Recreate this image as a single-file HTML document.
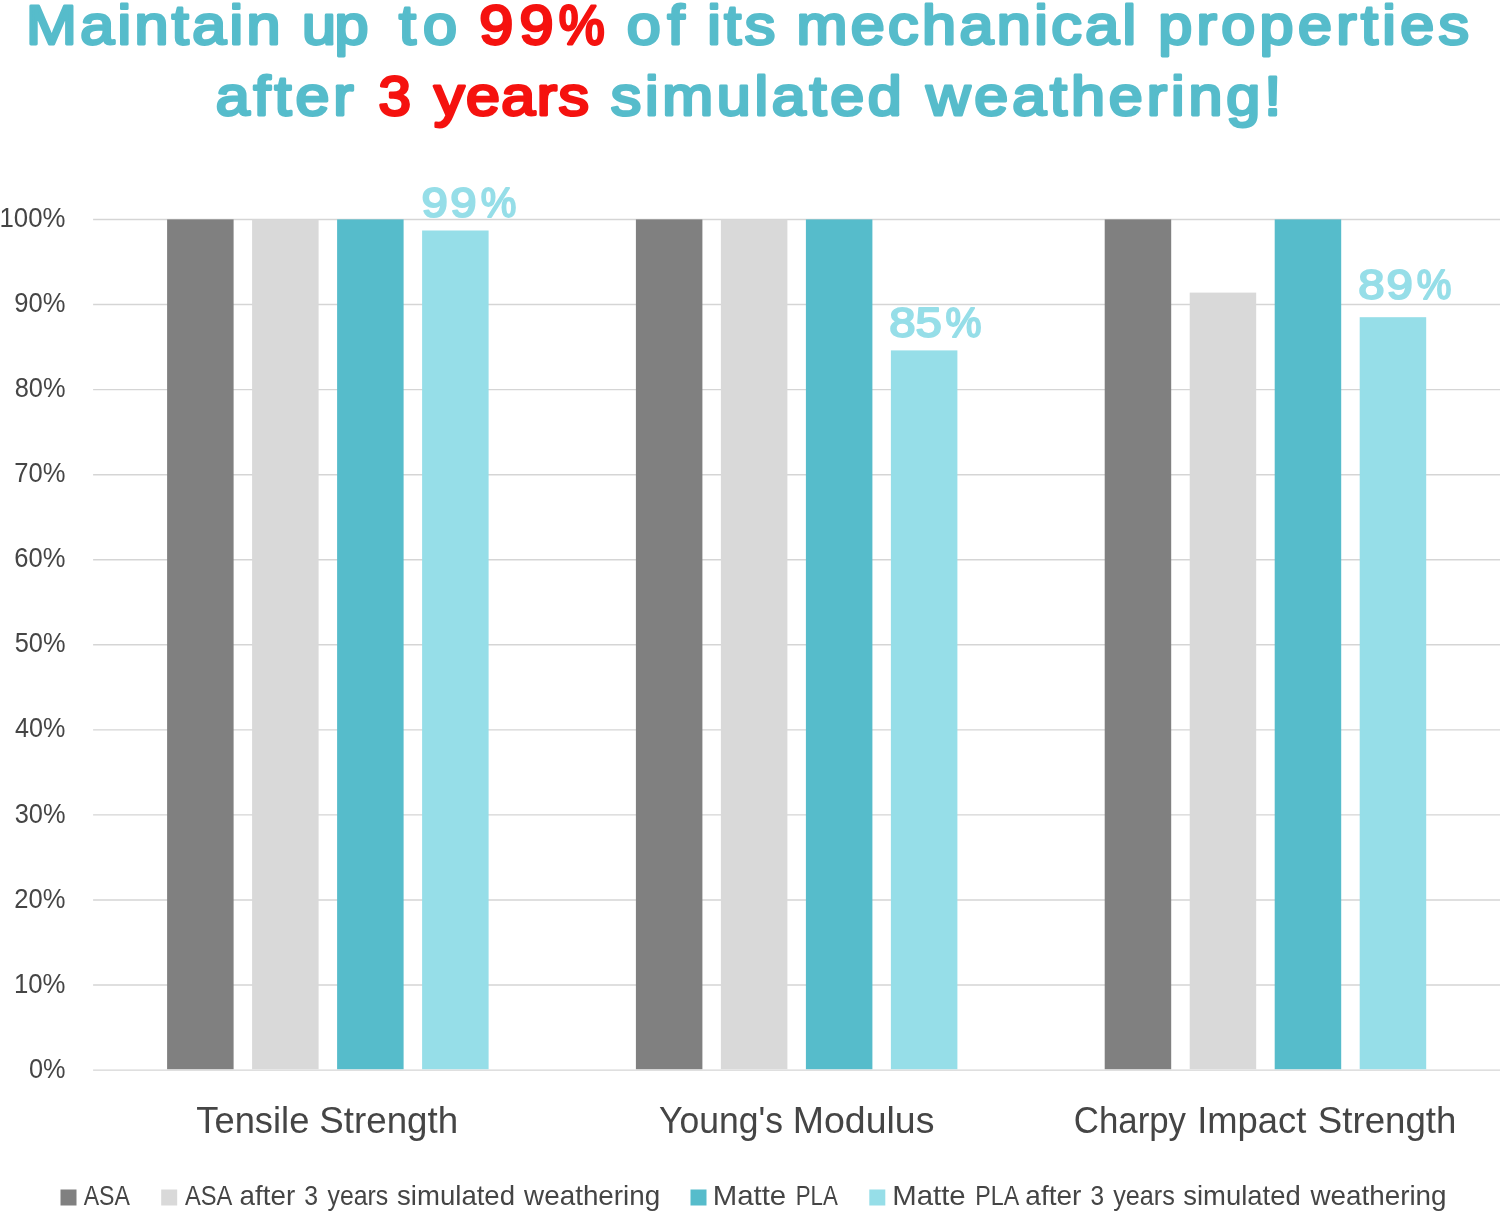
<!DOCTYPE html>
<html lang="en"><head><meta charset="utf-8"><title>Weathering chart</title>
<style>html,body{margin:0;padding:0;background:#fff}body{width:1500px;height:1212px;overflow:hidden}svg{display:block}text{font-family:"Liberation Sans",sans-serif;white-space:pre}.t{font-size:55.5px;stroke-width:2.9px;stroke-linejoin:round;stroke-linecap:round;fill:#56BCCB;stroke:#56BCCB}.red{fill:#F5120F;stroke:#F5120F}.ax{font-size:27px;fill:#454545}.cat{font-size:36.2px;fill:#454545}.lg{font-size:27.6px;fill:#454545}.dl{font-size:43px;fill:#96DEE8;stroke:#96DEE8;stroke-width:2.0px;stroke-linejoin:round;stroke-linecap:round}</style></head><body>
<svg width="1500" height="1212" viewBox="0 0 1500 1212">
<rect width="1500" height="1212" fill="#fff"/>
<text class="t" transform="translate(0,44.25) scale(1.100,1)"><tspan x="23.66" style="letter-spacing:3.08px">Maintain</tspan> <tspan x="274.53" style="letter-spacing:-1.37px">up</tspan> <tspan x="362.81" style="letter-spacing:6.43px">to</tspan> <tspan x="435.67" class="red" style="letter-spacing:5.67px">99</tspan><tspan x="507.94" class="red" textLength="41.78" lengthAdjust="spacingAndGlyphs">%</tspan> <tspan x="569.72" style="letter-spacing:6.18px">of</tspan> <tspan x="642.98" style="letter-spacing:3.17px">its</tspan> <tspan x="724.07" style="letter-spacing:3.12px">mechanical</tspan> <tspan x="1052.98" style="letter-spacing:3.98px">properties</tspan></text>
<text class="t" transform="translate(0,115.45) scale(1.100,1)"><tspan x="196.08" style="letter-spacing:3.60px">after</tspan> <tspan x="344.00" class="red" textLength="29.49" lengthAdjust="spacingAndGlyphs">3</tspan> <tspan x="394.63" class="red" style="letter-spacing:1.28px">years</tspan> <tspan x="555.13" style="letter-spacing:3.40px">simulated</tspan> <tspan x="842.04" style="letter-spacing:3.58px">weathering!</tspan></text>
<line x1="93.1" x2="1500" y1="219.50" y2="219.50" stroke="#D5D5D5" stroke-width="1.4"/>
<line x1="93.1" x2="1500" y1="304.56" y2="304.56" stroke="#D5D5D5" stroke-width="1.4"/>
<line x1="93.1" x2="1500" y1="389.62" y2="389.62" stroke="#D5D5D5" stroke-width="1.4"/>
<line x1="93.1" x2="1500" y1="474.68" y2="474.68" stroke="#D5D5D5" stroke-width="1.4"/>
<line x1="93.1" x2="1500" y1="559.74" y2="559.74" stroke="#D5D5D5" stroke-width="1.4"/>
<line x1="93.1" x2="1500" y1="644.80" y2="644.80" stroke="#D5D5D5" stroke-width="1.4"/>
<line x1="93.1" x2="1500" y1="729.86" y2="729.86" stroke="#D5D5D5" stroke-width="1.4"/>
<line x1="93.1" x2="1500" y1="814.92" y2="814.92" stroke="#D5D5D5" stroke-width="1.4"/>
<line x1="93.1" x2="1500" y1="899.98" y2="899.98" stroke="#D5D5D5" stroke-width="1.4"/>
<line x1="93.1" x2="1500" y1="985.04" y2="985.04" stroke="#D5D5D5" stroke-width="1.4"/>
<line x1="93.1" x2="1500" y1="1070.10" y2="1070.10" stroke="#D5D5D5" stroke-width="1.4"/>
<text class="ax" y="227.10"><tspan x="-0.51" textLength="65.98" lengthAdjust="spacingAndGlyphs">100%</tspan></text>
<text class="ax" y="312.16"><tspan x="14.30" textLength="51.16" lengthAdjust="spacingAndGlyphs">90%</tspan></text>
<text class="ax" y="397.22"><tspan x="14.71" textLength="50.75" lengthAdjust="spacingAndGlyphs">80%</tspan></text>
<text class="ax" y="482.28"><tspan x="14.30" textLength="51.16" lengthAdjust="spacingAndGlyphs">70%</tspan></text>
<text class="ax" y="567.34"><tspan x="14.30" textLength="51.16" lengthAdjust="spacingAndGlyphs">60%</tspan></text>
<text class="ax" y="652.40"><tspan x="14.71" textLength="50.75" lengthAdjust="spacingAndGlyphs">50%</tspan></text>
<text class="ax" y="737.46"><tspan x="15.11" textLength="50.34" lengthAdjust="spacingAndGlyphs">40%</tspan></text>
<text class="ax" y="822.52"><tspan x="14.71" textLength="50.75" lengthAdjust="spacingAndGlyphs">30%</tspan></text>
<text class="ax" y="907.58"><tspan x="14.30" textLength="51.16" lengthAdjust="spacingAndGlyphs">20%</tspan></text>
<text class="ax" y="992.64"><tspan x="13.89" textLength="51.58" lengthAdjust="spacingAndGlyphs">10%</tspan></text>
<text class="ax" y="1077.70"><tspan x="28.91" textLength="36.54" lengthAdjust="spacingAndGlyphs">0%</tspan></text>
<rect x="167.1" y="219.4" width="66.5" height="849.8" fill="#808080"/>
<rect x="252.1" y="219.4" width="66.5" height="849.8" fill="#D9D9D9"/>
<rect x="337.1" y="219.4" width="66.5" height="849.8" fill="#56BCCB"/>
<rect x="422.1" y="230.5" width="66.5" height="838.7" fill="#96DEE8"/>
<rect x="635.9" y="219.4" width="66.5" height="849.8" fill="#808080"/>
<rect x="720.9" y="219.4" width="66.5" height="849.8" fill="#D9D9D9"/>
<rect x="805.9" y="219.4" width="66.5" height="849.8" fill="#56BCCB"/>
<rect x="890.9" y="350.4" width="66.5" height="718.8" fill="#96DEE8"/>
<rect x="1104.7" y="219.4" width="66.5" height="849.8" fill="#808080"/>
<rect x="1189.7" y="292.6" width="66.5" height="776.6" fill="#D9D9D9"/>
<rect x="1274.7" y="219.4" width="66.5" height="849.8" fill="#56BCCB"/>
<rect x="1359.7" y="317.2" width="66.5" height="752.0" fill="#96DEE8"/>
<text class="dl" transform="translate(0,217.30) scale(1.100,1)"><tspan x="383.08" style="letter-spacing:2.38px">99</tspan><tspan x="437.16" textLength="32.35" lengthAdjust="spacingAndGlyphs">%</tspan></text>
<text class="dl" transform="translate(0,337.30) scale(1.100,1)"><tspan x="808.47" style="letter-spacing:-0.20px">85</tspan><tspan x="859.61" textLength="32.72" lengthAdjust="spacingAndGlyphs">%</tspan></text>
<text class="dl" transform="translate(0,299.40) scale(1.100,1)"><tspan x="1234.84" style="letter-spacing:1.80px">89</tspan><tspan x="1287.99" textLength="31.51" lengthAdjust="spacingAndGlyphs">%</tspan></text>
<text class="cat" y="1132.90"><tspan x="196.33" textLength="113.04" lengthAdjust="spacingAndGlyphs">Tensile</tspan> <tspan x="319.35" textLength="138.71" lengthAdjust="spacingAndGlyphs">Strength</tspan></text>
<text class="cat" y="1132.90"><tspan x="659.05" textLength="123.96" lengthAdjust="spacingAndGlyphs">Young's</tspan> <tspan x="792.77" textLength="141.70" lengthAdjust="spacingAndGlyphs">Modulus</tspan></text>
<text class="cat" y="1132.90"><tspan x="1073.77" textLength="112.23" lengthAdjust="spacingAndGlyphs">Charpy</tspan> <tspan x="1197.16" textLength="109.12" lengthAdjust="spacingAndGlyphs">Impact</tspan> <tspan x="1317.86" textLength="138.50" lengthAdjust="spacingAndGlyphs">Strength</tspan></text>
<rect x="60.5" y="1189.5" width="16" height="16" fill="#808080"/>
<text class="lg" y="1204.70"><tspan x="83.70" textLength="46.19" lengthAdjust="spacingAndGlyphs">ASA</tspan></text>
<rect x="161.2" y="1189.5" width="16" height="16" fill="#D9D9D9"/>
<text class="lg" y="1204.70"><tspan x="185.00" textLength="46.09" lengthAdjust="spacingAndGlyphs">ASA</tspan> <tspan x="239.63" textLength="55.50" lengthAdjust="spacingAndGlyphs">after</tspan> <tspan x="304.23" textLength="13.78" lengthAdjust="spacingAndGlyphs">3</tspan> <tspan x="327.50" textLength="60.78" lengthAdjust="spacingAndGlyphs">years</tspan> <tspan x="397.07" textLength="117.98" lengthAdjust="spacingAndGlyphs">simulated</tspan> <tspan x="524.13" textLength="136.13" lengthAdjust="spacingAndGlyphs">weathering</tspan></text>
<rect x="690.5" y="1189.5" width="16" height="16" fill="#56BCCB"/>
<text class="lg" y="1204.70"><tspan x="712.70" textLength="73.49" lengthAdjust="spacingAndGlyphs">Matte</tspan> <tspan x="795.76" textLength="42.13" lengthAdjust="spacingAndGlyphs">PLA</tspan></text>
<rect x="869.3" y="1189.5" width="16" height="16" fill="#96DEE8"/>
<text class="lg" y="1204.70"><tspan x="892.20" textLength="73.49" lengthAdjust="spacingAndGlyphs">Matte</tspan> <tspan x="975.24" textLength="42.65" lengthAdjust="spacingAndGlyphs">PLA</tspan> <tspan x="1025.33" textLength="56.01" lengthAdjust="spacingAndGlyphs">after</tspan> <tspan x="1090.44" textLength="13.55" lengthAdjust="spacingAndGlyphs">3</tspan> <tspan x="1113.20" textLength="61.59" lengthAdjust="spacingAndGlyphs">years</tspan> <tspan x="1183.27" textLength="117.47" lengthAdjust="spacingAndGlyphs">simulated</tspan> <tspan x="1310.43" textLength="136.13" lengthAdjust="spacingAndGlyphs">weathering</tspan></text>
</svg></body></html>
